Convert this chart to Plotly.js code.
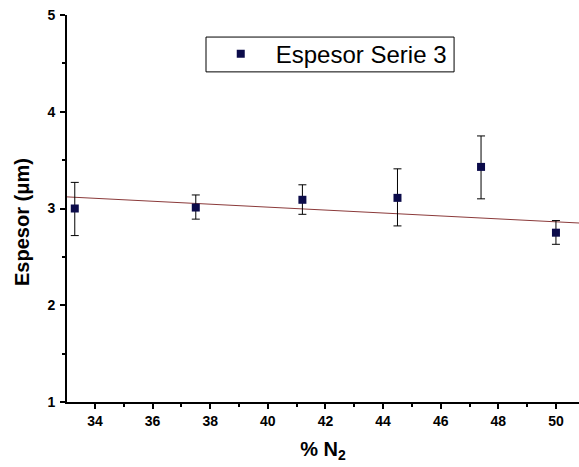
<!DOCTYPE html>
<html>
<head>
<meta charset="utf-8">
<script src="https://cdn.plot.ly/plotly-3.0.1.min.js"></script>
<style>html,body{margin:0;padding:0;background:#fff;}#chart{width:579px;height:467px;}</style>
</head>
<body>
<div id="chart"></div>
<script>
// Data
var nitrogenPct = [33.3, 37.5, 41.2, 44.5, 47.4, 50.0];
var thickness   = [3.00, 3.01, 3.09, 3.11, 3.43, 2.75];
var errPlus     = [0.27, 0.13, 0.155, 0.30, 0.32, 0.125];
var errMinus    = [0.28, 0.12, 0.15, 0.29, 0.33, 0.12];
// Linear fit line endpoints
var fitX = [33.03, 50.8];
var fitY = [3.12, 2.85];
var seriesName = "Espesor Serie 3";
var xTitle = "% N<sub>2</sub>";
var yTitle = "Espesor (μm)";
var xTickVals = [34, 36, 38, 40, 42, 44, 46, 48, 50];
var yTickVals = [1, 2, 3, 4, 5];

var fontFam = "Liberation Sans, Arial, Helvetica, sans-serif";

var traces = [
  {
    x: fitX, y: fitY, mode: "lines", type: "scatter",
    line: {color: "#8b3a3a", width: 1},
    showlegend: false, hoverinfo: "skip"
  },
  {
    x: nitrogenPct, y: thickness, mode: "markers", type: "scatter",
    name: seriesName,
    marker: {symbol: "square", size: 8, color: "#0b0b4a"},
    error_y: {type: "data", symmetric: false, array: errPlus, arrayminus: errMinus,
              color: "#000", thickness: 1, width: 4}
  }
];

var axisCommon = {
  showgrid: false, zeroline: false, showline: true, linecolor: "#000", linewidth: 2,
  ticks: "outside", ticklen: 5, tickwidth: 2, tickcolor: "#000",
  tickfont: {family: fontFam, size: 14, color: "#000", weight: 700},
  mirror: false
};

var layout = {
  width: 579, height: 467,
  margin: {l: 67, r: 0, t: 15, b: 65},
  paper_bgcolor: "#fff", plot_bgcolor: "#fff",
  xaxis: Object.assign({}, axisCommon, {
    range: [33.03, 50.8], tickvals: xTickVals,
    minor: {dtick: 1, tick0: 33, ticks: "outside", ticklen: 3, tickwidth: 2, tickcolor: "#000"},
    title: {text: xTitle, font: {family: fontFam, size: 20, color: "#000", weight: 700}, standoff: 14}
  }),
  yaxis: Object.assign({}, axisCommon, {
    range: [1, 5], tickvals: yTickVals, ticklabelstandoff: 2,
    minor: {dtick: 0.5, ticks: "outside", ticklen: 3, tickwidth: 2, tickcolor: "#000"}
  }),
  annotations: [{
    text: yTitle, textangle: -90, showarrow: false,
    xref: "paper", yref: "paper", x: -0.088, y: 0.465, xanchor: "center", yanchor: "middle",
    font: {family: fontFam, size: 20, color: "#000", weight: 700}
  }],
  shapes: [{
    type: "rect", xref: "paper", yref: "paper",
    x0: 0.2715, x1: 0.756, y0: 0.853, y1: 0.943,
    line: {color: "#000", width: 1}, fillcolor: "rgba(0,0,0,0)", layer: "above"
  }],
  showlegend: true,
  legend: {
    x: 0.271, y: 0.957, xanchor: "left", yanchor: "top",
    borderwidth: 0, bgcolor: "rgba(0,0,0,0)",
    font: {family: fontFam, size: 24, color: "#000"},
    itemwidth: 60
  }
};

Plotly.newPlot("chart", traces, layout, {displayModeBar: false, staticPlot: true});
</script>
</body>
</html>
